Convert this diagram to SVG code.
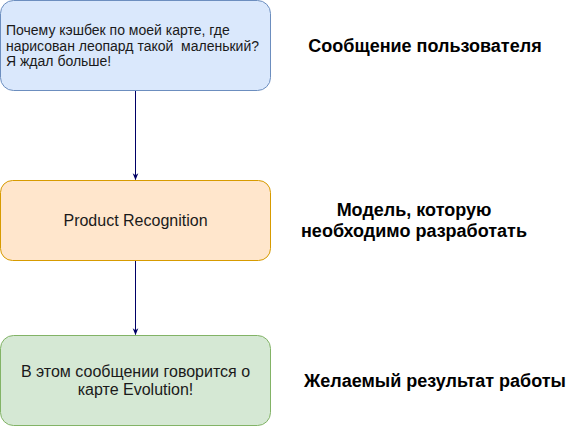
<svg xmlns="http://www.w3.org/2000/svg" width="571" height="426" viewBox="0 0 571 426">
<defs>
<style>
.box{stroke-width:1}
.t{font-family:"Liberation Sans",Arial,sans-serif;fill:#1a1a1a}
.lbl{font-family:"Liberation Sans",Arial,sans-serif;font-weight:bold;font-size:18px;fill:#000;text-anchor:middle}
.c{stroke:#000066;stroke-width:1;fill:none}
</style>
<marker id="arr" viewBox="0 0 10 10" refX="9" refY="5" markerWidth="7" markerHeight="7" markerUnits="userSpaceOnUse" orient="auto">
<path d="M0,1 L10,5 L0,9 L3,5 Z" fill="#000066"/>
</marker>
</defs>
<rect width="571" height="426" fill="#ffffff"/>
<g id="connectors">
<line class="c" x1="135.5" y1="90.5" x2="135.5" y2="179.5" marker-end="url(#arr)"/>
<line class="c" x1="135.5" y1="260.5" x2="135.5" y2="334.5" marker-end="url(#arr)"/>
</g>
<g id="node-message">
<rect class="box" x="0.5" y="0.5" width="270" height="90" rx="13" fill="#dae8fc" stroke="#6c8ebf"/>
<text class="t" font-size="14" x="6" y="35">Почему кэшбек по моей карте, где</text>
<text class="t" font-size="14" x="6" y="51" xml:space="preserve">нарисован леопард такой  маленький?</text>
<text class="t" font-size="14" x="6" y="66">Я ждал больше!</text>
</g>
<g id="node-model">
<rect class="box" x="0.5" y="180.5" width="270" height="80" rx="12" fill="#ffe6cc" stroke="#d79b00"/>
<text class="t" font-size="16" x="135.5" y="226" text-anchor="middle">Product Recognition</text>
</g>
<g id="node-result">
<rect class="box" x="0.5" y="335.5" width="270" height="90" rx="13" fill="#d5e8d4" stroke="#82b366"/>
<text class="t" font-size="16" x="135.5" y="377" text-anchor="middle">В этом сообщении говорится о</text>
<text class="t" font-size="16" x="135.5" y="395" text-anchor="middle">карте Evolution!</text>
</g>
<g id="label-message"><text class="lbl" x="425" y="52">Сообщение пользователя</text></g>
<g id="label-model">
<text class="lbl" x="414" y="216">Модель, которую</text>
<text class="lbl" x="414" y="237">необходимо разработать</text>
</g>
<g id="label-result"><text class="lbl" x="435" y="387">Желаемый результат работы</text></g>
</svg>
